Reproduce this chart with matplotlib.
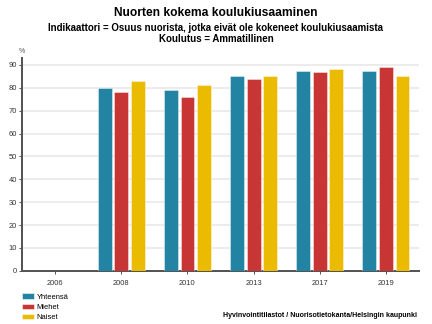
import numpy as np
import matplotlib
matplotlib.use("Agg")
import matplotlib.pyplot as plt
from matplotlib.patches import Patch

years = ["2006", "2008", "2010", "2013", "2017", "2019"]
yhteensa = [np.nan, 80, 79, 85, 87.4, 87.4]
miehet = [np.nan, 78, 76, 84, 87, 89]
naiset = [np.nan, 83, 81, 85, 88, 85.3]

series = ["Yhteensä", "Miehet", "Naiset"]
colors = ["#2283a2", "#c83535", "#eabb00"]

plt.rcParams["font.family"] = ["Liberation Sans", "DejaVu Sans"]

fig = plt.figure(figsize=(6, 4.5), dpi=72)
ax = fig.add_axes([0.051, 0.164, 0.919, 0.657])

x = np.arange(len(years))
width = 0.21
offs = [-0.25, 0, 0.25]
for vals, off, c in zip([yhteensa, miehet, naiset], offs, colors):
    ax.bar(x + off, vals, width, color=c, edgecolor=(1, 1, 1, 0.5), linewidth=0.8, zorder=3)

ax.set_xlim(-0.5, 5.5)
ax.set_ylim(0, 93)
ax.set_yticks(range(0, 91, 10))
ax.set_xticks(x)
ax.set_xticklabels(years)
ax.grid(axis="y", color="#e6e6e6", linewidth=1.5, zorder=0)
for s in ["top", "right"]:
    ax.spines[s].set_visible(False)
for s in ["left", "bottom"]:
    ax.spines[s].set_color("#555555")
    ax.spines[s].set_linewidth(2)
ax.tick_params(axis="both", labelsize=7.5, colors="#555555", labelcolor="#333333", width=1, length=3)
ax.tick_params(axis="y", pad=2)
ax.tick_params(axis="x", pad=6)
ax.text(-0.5, 94.2, "%", fontsize=7, color="#555555", ha="center", va="bottom")

fig.text(0.5, 0.96, "Nuorten kokema koulukiusaaminen", ha="center", va="center",
         fontsize=12, fontweight="bold")
fig.text(0.5, 0.897, "Indikaattori = Osuus nuorista, jotka eivät ole kokeneet koulukiusaamista\nKoulutus = Ammatillinen",
         ha="center", va="center", fontsize=9.8, fontweight="bold", linespacing=1.05)

handles = [Patch(facecolor=c, edgecolor=(1, 1, 1, 0.5)) for c in colors]
fig.legend(handles, series, loc="lower left", bbox_to_anchor=(0.035, -0.012), frameon=False,
           fontsize=7.5, handlelength=1.6, handleheight=0.75, labelspacing=0.38, handletextpad=0.4)

fig.text(0.965, 0.025, "Hyvinvointitilastot / Nuorisotietokanta/Helsingin kaupunki",
         ha="right", va="center", fontsize=7, fontweight="bold")

fig.savefig("out.png", dpi=72)
